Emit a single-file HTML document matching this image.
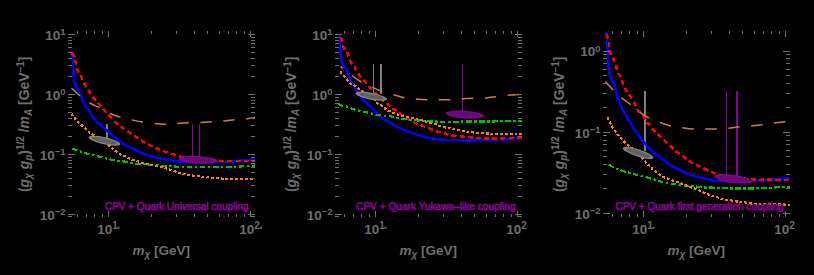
<!DOCTYPE html><html><head><meta charset="utf-8"><style>html,body{margin:0;padding:0;background:#000;width:814px;height:275px;overflow:hidden}svg{display:block}text{font-family:"Liberation Sans",sans-serif}</style></head><body>
<svg width="814" height="275" viewBox="0 0 814 275">
<rect width="814" height="275" fill="#000"/>
<defs><clipPath id="c0"><rect x="68" y="31" width="187" height="186"/></clipPath></defs>
<g clip-path="url(#c0)" shape-rendering="crispEdges">
<path d="M107.1,123.9V138.5" stroke="#808080" stroke-width="1.8"/>
<path d="M192.5,123.8V157" stroke="#8c0096" stroke-width="1.4"/>
<path d="M199.4,123.8V157" stroke="#8c0096" stroke-width="1.4"/>
<path d="M72.5,51.2 C72.58,53.5 72.88,61.87 73,65 C73.12,68.13 73.08,67.95 73.2,70 C73.32,72.05 73.37,74.87 73.7,77.3 C74.03,79.73 74.22,82.18 75.2,84.6 C76.18,87.02 78.52,89.62 79.6,91.8 C80.68,93.98 80.98,95.75 81.7,97.7 C82.42,99.65 82.8,101.48 83.9,103.5 C85,105.52 86.6,107.27 88.3,109.8 C90,112.33 92.15,116.23 94.1,118.7 C96.05,121.17 97.92,122.67 100,124.6 C102.08,126.53 104.18,128.2 106.6,130.3 C109.02,132.4 112.1,135.2 114.5,137.2 C116.9,139.2 119.08,140.95 121,142.3 C122.92,143.65 123.93,144.22 126,145.3 C128.07,146.38 131.18,147.75 133.4,148.8 C135.62,149.85 137.78,150.85 139.3,151.6 C140.82,152.35 140.52,152.53 142.5,153.3 C144.48,154.07 148.3,155.35 151.2,156.2 C154.1,157.05 156.98,157.8 159.9,158.4 C162.82,159 165.78,159.32 168.7,159.8 C171.62,160.28 173.85,160.93 177.4,161.3 C180.95,161.67 183.47,161.85 190,162 C196.53,162.15 209.98,162.2 216.6,162.2 C223.22,162.2 225.8,162.28 229.7,162 C233.6,161.72 235.62,160.92 240,160.5 C244.38,160.08 253.33,159.67 256,159.5" stroke="#0000ff" stroke-width="2.5" fill="none"/>
<path d="M71.5,53 C71.92,53.43 73.42,54.43 74,55.6 C74.58,56.77 74.7,58.73 75,60 C75.3,61.27 75.4,61.53 75.8,63.2 C76.2,64.87 76.53,67.9 77.4,70 C78.27,72.1 79.92,73.62 81,75.8 C82.08,77.98 82.68,80.78 83.9,83.1 C85.12,85.42 86.83,87.4 88.3,89.7 C89.77,92 91,94.6 92.7,96.9 C94.4,99.2 97.03,101.9 98.5,103.5 C99.97,105.1 100.52,105.35 101.5,106.5 C102.48,107.65 103.18,108.93 104.4,110.4 C105.62,111.87 107.08,113.42 108.8,115.3 C110.52,117.18 112.65,119.82 114.7,121.7 C116.75,123.58 119.3,125.22 121.1,126.6 C122.9,127.98 123.4,128.58 125.5,130 C127.6,131.42 131.12,133.4 133.7,135.1 C136.28,136.8 138.82,138.78 141,140.2 C143.18,141.62 144.62,142.42 146.8,143.6 C148.98,144.78 151.67,146.18 154.1,147.3 C156.53,148.42 158.97,149.35 161.4,150.3 C163.83,151.25 166.03,152.12 168.7,153 C171.37,153.88 174.73,154.85 177.4,155.6 C180.07,156.35 180.93,156.88 184.7,157.5 C188.47,158.12 194.95,158.82 200,159.3 C205.05,159.78 210.83,160.12 215,160.4 C219.17,160.68 220.83,160.9 225,161 C229.17,161.1 234.83,161 240,161 C245.17,161 253.33,161 256,161" stroke="#ff0000" stroke-width="2.5" fill="none" stroke-dasharray="5 3.2"/>
<ellipse shape-rendering="auto" cx="198" cy="159.8" rx="19.3" ry="3.9" transform="rotate(3 198 159.8)" stroke="none" stroke-width="0" fill="#8c0096" fill-opacity="0.95"/><ellipse shape-rendering="auto" cx="198" cy="159.8" rx="15.440000000000001" ry="2.574" transform="rotate(3 198 159.8)" stroke="none" stroke-width="0" fill="#5e0a6e" fill-opacity="0.85"/><ellipse shape-rendering="auto" cx="198" cy="159.8" rx="9.65" ry="1.365" transform="rotate(3 198 159.8)" stroke="#720a80" stroke-width="0.7" fill="none" fill-opacity="0"/>
<path d="M72,148.5 C73.5,149.03 78.28,150.78 81,151.7 C83.72,152.62 85.38,153.18 88.3,154 C91.22,154.82 95.35,155.82 98.5,156.6 C101.65,157.38 104.53,158.1 107.2,158.7 C109.87,159.3 111.58,159.72 114.5,160.2 C117.42,160.68 121.5,161.05 124.7,161.6 C127.9,162.15 130.73,163.07 133.7,163.5 C136.67,163.93 139.58,163.97 142.5,164.2 C145.42,164.43 148.05,164.65 151.2,164.9 C154.35,165.15 158,165.47 161.4,165.7 C164.8,165.93 168.45,166.12 171.6,166.3 C174.75,166.48 175.57,166.72 180.3,166.8 C185.03,166.88 191.72,166.8 200,166.8 C208.28,166.8 223.33,166.85 230,166.8 C236.67,166.75 235.67,166.72 240,166.5 C244.33,166.28 253.33,165.67 256,165.5" stroke="#00c000" stroke-width="2.2" fill="none" stroke-dasharray="5.5 2.5 2.5 2.5"/>
<path d="M71.5,113.6 C72.12,114.45 73.37,116.63 75.2,118.7 C77.03,120.77 80.08,123.68 82.5,126 C84.92,128.32 87.77,131.02 89.7,132.6 C91.63,134.18 92.03,134.17 94.1,135.5 C96.17,136.83 99.4,138.73 102.1,140.6 C104.8,142.47 108.35,145.2 110.3,146.7 C112.25,148.2 112.57,148.62 113.8,149.6 C115.03,150.58 116.4,151.7 117.7,152.6 C119,153.5 120.22,154.32 121.6,155 C122.98,155.68 124.47,156.02 126,156.7 C127.53,157.38 128.53,158.22 130.8,159.1 C133.07,159.98 136.93,161.15 139.6,162 C142.27,162.85 144.13,163.58 146.8,164.2 C149.47,164.82 152.68,165.1 155.6,165.7 C158.52,166.3 161.9,167.13 164.3,167.8 C166.7,168.47 167.6,168.88 170,169.7 C172.4,170.52 176.27,171.97 178.7,172.7 C181.13,173.43 181.93,173.57 184.6,174.1 C187.27,174.63 190.83,175.37 194.7,175.9 C198.57,176.43 203.42,176.87 207.8,177.3 C212.18,177.73 217.6,178.23 221,178.5 C224.4,178.77 222.37,178.88 228.2,178.9 C234.03,178.92 251.37,178.65 256,178.6" stroke="#ff8000" stroke-width="2.2" fill="none" stroke-dasharray="2.8 2"/>
<ellipse shape-rendering="auto" cx="104.4" cy="140.7" rx="16.2" ry="3.6" transform="rotate(12.5 104.4 140.7)" stroke="none" stroke-width="0" fill="#8a8a8a" fill-opacity="0.95"/><ellipse shape-rendering="auto" cx="104.4" cy="140.7" rx="12.636" ry="2.3760000000000003" transform="rotate(12.5 104.4 140.7)" stroke="none" stroke-width="0" fill="#585858" fill-opacity="0.92"/><ellipse shape-rendering="auto" cx="104.4" cy="140.7" rx="7.29" ry="1.26" transform="rotate(12.5 104.4 140.7)" stroke="#6e6e6e" stroke-width="0.7" fill="none" fill-opacity="0"/>
<path d="M71.5,88.2 C72.85,89.42 76.57,93.07 79.6,95.5 C82.63,97.93 86.32,100.75 89.7,102.8 C93.08,104.85 96.38,105.97 99.9,107.8 C103.42,109.63 107.35,112.22 110.8,113.8 C114.25,115.38 117.15,116.3 120.6,117.3 C124.05,118.3 127.85,119.02 131.5,119.8 C135.15,120.58 138.73,121.38 142.5,122 C146.27,122.62 150.1,123.13 154.1,123.5 C158.1,123.87 162.73,124.2 166.5,124.2 C170.27,124.2 172.83,123.73 176.7,123.5 C180.57,123.27 185.6,122.98 189.7,122.8 C193.8,122.62 197.42,122.6 201.3,122.4 C205.18,122.2 209.23,121.85 213,121.6 C216.77,121.35 220.17,121.22 223.9,120.9 C227.63,120.58 231.67,120.03 235.4,119.7 C239.13,119.37 242.87,119.3 246.3,118.9 C249.73,118.5 254.38,117.57 256,117.3" stroke="#cc8040" stroke-width="1.5" shape-rendering="auto" fill="none" stroke-dasharray="11.5 11.5" stroke-dashoffset="0"/>
</g>
<path d="M77.2,217v-2.6 M77.2,31v2.6 M86.7,217v-2.6 M86.7,31v2.6 M94.94,217v-2.6 M94.94,31v2.6 M102.2,217v-2.6 M102.2,31v2.6 M108.7,217v-6 M108.7,31v6 M151.45,217v-2.6 M151.45,31v2.6 M176.45,217v-2.6 M176.45,31v2.6 M194.19,217v-2.6 M194.19,31v2.6 M207.95,217v-2.6 M207.95,31v2.6 M219.2,217v-2.6 M219.2,31v2.6 M228.7,217v-2.6 M228.7,31v2.6 M236.94,217v-2.6 M236.94,31v2.6 M244.2,217v-2.6 M244.2,31v2.6 M250.7,217v-6 M250.7,31v6 M68,216.84h4 M255,216.84h-4 M68,214.1h7 M255,214.1h-7 M68,196.1h4 M255,196.1h-4 M68,185.57h4 M255,185.57h-4 M68,178.1h4 M255,178.1h-4 M68,172.3h4 M255,172.3h-4 M68,167.57h4 M255,167.57h-4 M68,163.56h4 M255,163.56h-4 M68,160.1h4 M255,160.1h-4 M68,157.04h4 M255,157.04h-4 M68,154.3h7 M255,154.3h-7 M68,136.3h4 M255,136.3h-4 M68,125.77h4 M255,125.77h-4 M68,118.3h4 M255,118.3h-4 M68,112.5h4 M255,112.5h-4 M68,107.77h4 M255,107.77h-4 M68,103.76h4 M255,103.76h-4 M68,100.3h4 M255,100.3h-4 M68,97.24h4 M255,97.24h-4 M68,94.5h7 M255,94.5h-7 M68,76.5h4 M255,76.5h-4 M68,65.97h4 M255,65.97h-4 M68,58.5h4 M255,58.5h-4 M68,52.7h4 M255,52.7h-4 M68,47.97h4 M255,47.97h-4 M68,43.96h4 M255,43.96h-4 M68,40.5h4 M255,40.5h-4 M68,37.44h4 M255,37.44h-4 M68,34.7h7 M255,34.7h-7" stroke="#6e6e6e" stroke-width="1" fill="none" shape-rendering="crispEdges"/>
<text x="65.6" y="40.1" fill="#6e6e6e" font-size="13.5" font-weight="bold" text-anchor="end"><tspan>10</tspan><tspan font-size="9.5" dy="-4.8">1</tspan></text>
<text x="65.6" y="99.9" fill="#6e6e6e" font-size="13.5" font-weight="bold" text-anchor="end"><tspan>10</tspan><tspan font-size="9.5" dy="-4.8">0</tspan></text>
<text x="65.6" y="159.7" fill="#6e6e6e" font-size="13.5" font-weight="bold" text-anchor="end"><tspan>10</tspan><tspan font-size="9.5" dy="-4.8">−1</tspan></text>
<text x="65.6" y="219.5" fill="#6e6e6e" font-size="13.5" font-weight="bold" text-anchor="end"><tspan>10</tspan><tspan font-size="9.5" dy="-4.8">−2</tspan></text>
<text x="107.5" y="233.8" fill="#6e6e6e" font-size="13.5" font-weight="bold" text-anchor="middle">10<tspan font-size="10" dy="-5">1</tspan></text>
<rect x="117.5" y="226.8" width="2" height="1.8" fill="#6e6e6e"/>
<text x="249.5" y="233.8" fill="#6e6e6e" font-size="13.5" font-weight="bold" text-anchor="middle">10<tspan font-size="10" dy="-5">2</tspan></text>
<rect x="260" y="226.8" width="2" height="1.8" fill="#6e6e6e"/>
<text x="132.5" y="254.5" fill="#6e6e6e" font-size="13.5" font-weight="bold"><tspan font-style="italic">m</tspan><tspan font-style="italic" font-size="10" dy="3">χ</tspan><tspan dy="-3"> [GeV]</tspan></text>
<g transform="translate(28.5,124.3) rotate(-90)"><text x="0" y="0" fill="#6e6e6e" font-size="13.9" font-weight="bold" text-anchor="middle">(<tspan font-style="italic">g</tspan><tspan font-size="10" dy="3" font-style="italic">χ</tspan><tspan dy="-3"> </tspan><tspan font-style="italic">g</tspan><tspan font-size="10" dy="3" font-style="italic">p</tspan><tspan dy="-3">)</tspan><tspan font-size="10" dy="-4.5">1/2</tspan><tspan dy="4.5"> /</tspan><tspan font-style="italic">m</tspan><tspan font-size="10" dy="3" font-style="italic">A</tspan><tspan dy="-3"> [GeV</tspan><tspan font-size="10" dy="-4.5">−1</tspan><tspan dy="4.5">]</tspan></text></g>
<text x="248.6" y="210.1" fill="#8c0096" stroke="#8c0096" stroke-width="0.6" font-size="10" text-anchor="end">CPV + Quark Universal coupling</text>
<defs><clipPath id="c1"><rect x="335" y="31" width="187" height="186"/></clipPath></defs>
<g clip-path="url(#c1)" shape-rendering="crispEdges">
<path d="M373.5,64.2V94" stroke="#808080" stroke-width="1.6"/>
<path d="M381,64.2V94" stroke="#808080" stroke-width="1.6"/>
<path d="M462.6,63.8V112" stroke="#8c0096" stroke-width="1.4"/>
<path d="M340,34.2 C340,35.93 339.88,41.67 340,44.6 C340.12,47.53 340.5,49.32 340.7,51.8 C340.9,54.28 340.85,57.33 341.2,59.5 C341.55,61.67 341.87,63.1 342.8,64.8 C343.73,66.5 345.82,68.07 346.8,69.7 C347.78,71.33 348.13,72.63 348.7,74.6 C349.27,76.57 349.72,80.2 350.2,81.5 C350.68,82.8 350.75,81.28 351.6,82.4 C352.45,83.52 353.95,86.27 355.3,88.2 C356.65,90.13 358.25,91.93 359.7,94 C361.15,96.07 362.28,98.57 364,100.6 C365.72,102.63 368.35,104.7 370,106.2 C371.65,107.7 372.65,108.25 373.9,109.6 C375.15,110.95 375.75,112.67 377.5,114.3 C379.25,115.93 382.18,117.93 384.4,119.4 C386.62,120.87 388.77,121.88 390.8,123.1 C392.83,124.32 394.42,125.6 396.6,126.7 C398.78,127.8 401.47,128.72 403.9,129.7 C406.33,130.68 408.53,131.63 411.2,132.6 C413.87,133.57 416.98,134.65 419.9,135.5 C422.82,136.35 425.78,137.1 428.7,137.7 C431.62,138.3 434.73,138.75 437.4,139.1 C440.07,139.45 441.83,139.68 444.7,139.8 C447.57,139.92 450.53,139.67 454.6,139.8 C458.67,139.93 464.25,140.6 469.1,140.6 C473.95,140.6 480.22,139.85 483.7,139.8 C487.18,139.75 486.52,140.35 490,140.3 C493.48,140.25 499.98,139.83 504.6,139.5 C509.22,139.17 514.63,138.55 517.7,138.3 C520.77,138.05 522.12,138.05 523,138" stroke="#0000ff" stroke-width="2.5" fill="none"/>
<path d="M340.7,37 C340.95,37.77 341.72,39.85 342.2,41.6 C342.68,43.35 342.75,45.67 343.6,47.5 C344.45,49.33 346.53,51.27 347.3,52.6 C348.07,53.93 347.63,53.95 348.2,55.5 C348.77,57.05 349.63,60.02 350.7,61.9 C351.77,63.78 353.78,65.5 354.6,66.8 C355.42,68.1 354.93,68.47 355.6,69.7 C356.27,70.93 357.28,72.48 358.6,74.2 C359.92,75.92 361.75,77.92 363.5,80 C365.25,82.08 367.85,85.2 369.1,86.7 C370.35,88.2 370.2,88.13 371,89 C371.8,89.87 372.92,91 373.9,91.9 C374.88,92.8 375.1,92.6 376.9,94.4 C378.7,96.2 382.65,100.9 384.7,102.7 C386.75,104.5 387.88,104.22 389.2,105.2 C390.52,106.18 391.55,107.78 392.6,108.6 C393.65,109.42 394.35,109.37 395.5,110.1 C396.65,110.83 397.62,111.68 399.5,113 C401.38,114.32 404.37,116.43 406.8,118 C409.23,119.57 411.67,121.18 414.1,122.4 C416.53,123.62 418.97,124.33 421.4,125.3 C423.83,126.27 426.28,127.23 428.7,128.2 C431.12,129.17 433.48,130.3 435.9,131.1 C438.32,131.9 441.07,132.4 443.2,133 C445.33,133.6 446.32,134.17 448.7,134.7 C451.08,135.23 454.58,135.83 457.5,136.2 C460.42,136.57 463.3,136.65 466.2,136.9 C469.1,137.15 471.98,137.45 474.9,137.7 C477.82,137.95 479.57,138.28 483.7,138.4 C487.83,138.52 494.03,138.53 499.7,138.4 C505.37,138.27 513.82,137.75 517.7,137.6 C521.58,137.45 522.12,137.52 523,137.5" stroke="#ff0000" stroke-width="2.5" fill="none" stroke-dasharray="5 3.2"/>
<ellipse shape-rendering="auto" cx="464.8" cy="114.6" rx="19.2" ry="3.9" transform="rotate(4 464.8 114.6)" stroke="none" stroke-width="0" fill="#8c0096" fill-opacity="0.95"/><ellipse shape-rendering="auto" cx="464.8" cy="114.6" rx="15.36" ry="2.574" transform="rotate(4 464.8 114.6)" stroke="none" stroke-width="0" fill="#5e0a6e" fill-opacity="0.85"/><ellipse shape-rendering="auto" cx="464.8" cy="114.6" rx="9.6" ry="1.365" transform="rotate(4 464.8 114.6)" stroke="#720a80" stroke-width="0.7" fill="none" fill-opacity="0"/>
<path d="M338.2,104 C338.75,104.25 340.1,105.07 341.5,105.5 C342.9,105.93 344.78,106.07 346.6,106.6 C348.42,107.13 350.22,107.98 352.4,108.7 C354.58,109.42 357.28,110.28 359.7,110.9 C362.12,111.52 364.72,111.92 366.9,112.4 C369.08,112.88 370.62,113.32 372.8,113.8 C374.98,114.28 377.58,114.95 380,115.3 C382.42,115.65 385.25,115.68 387.3,115.9 C389.35,116.12 390.5,116.25 392.3,116.6 C394.1,116.95 396.17,117.6 398.1,118 C400.03,118.4 401.72,118.68 403.9,119 C406.08,119.32 408.77,119.65 411.2,119.9 C413.63,120.15 416.07,120.32 418.5,120.5 C420.93,120.68 423.62,120.85 425.8,121 C427.98,121.15 429.67,121.3 431.6,121.4 C433.53,121.5 435.47,121.52 437.4,121.6 C439.33,121.68 439.43,121.9 443.2,121.9 C446.97,121.9 452.2,121.67 460,121.6 C467.8,121.53 480.38,121.63 490,121.5 C499.62,121.37 512.2,120.95 517.7,120.8 C523.2,120.65 522.12,120.63 523,120.6" stroke="#00c000" stroke-width="2.2" fill="none" stroke-dasharray="5.5 2.5 2.5 2.5"/>
<path d="M340.4,71.5 C340.97,72.27 342.65,74.72 343.8,76.1 C344.95,77.48 346.12,78.52 347.3,79.8 C348.48,81.08 349.57,82.77 350.9,83.8 C352.23,84.83 353.97,85.15 355.3,86 C356.63,86.85 357.57,87.93 358.9,88.9 C360.23,89.87 361.72,90.83 363.3,91.8 C364.88,92.77 366.33,93.23 368.4,94.7 C370.47,96.17 374.12,99.1 375.7,100.6 C377.28,102.1 376.72,102.77 377.9,103.7 C379.08,104.63 381.42,105.22 382.8,106.2 C384.18,107.18 384.9,108.7 386.2,109.6 C387.5,110.5 388.87,110.83 390.6,111.6 C392.33,112.37 394.13,113.37 396.6,114.2 C399.07,115.03 402.48,115.85 405.4,116.6 C408.32,117.35 411.43,118.1 414.1,118.7 C416.77,119.3 418.97,119.58 421.4,120.2 C423.83,120.82 426.52,121.8 428.7,122.4 C430.88,123 432.62,123.2 434.5,123.8 C436.38,124.4 437.63,125.27 440,126 C442.37,126.73 445.78,127.58 448.7,128.2 C451.62,128.82 454.58,129.15 457.5,129.7 C460.42,130.25 463.3,131.02 466.2,131.5 C469.1,131.98 471.98,132.3 474.9,132.6 C477.82,132.9 481.02,133.12 483.7,133.3 C486.38,133.48 488.58,133.58 491,133.7 C493.42,133.82 492.87,133.92 498.2,134 C503.53,134.08 518.87,134.17 523,134.2" stroke="#ff8000" stroke-width="2.2" fill="none" stroke-dasharray="2.8 2"/>
<ellipse shape-rendering="auto" cx="371.3" cy="96.2" rx="16" ry="3.5" transform="rotate(11 371.3 96.2)" stroke="none" stroke-width="0" fill="#8a8a8a" fill-opacity="0.95"/><ellipse shape-rendering="auto" cx="371.3" cy="96.2" rx="12.48" ry="2.31" transform="rotate(11 371.3 96.2)" stroke="none" stroke-width="0" fill="#585858" fill-opacity="0.92"/><ellipse shape-rendering="auto" cx="371.3" cy="96.2" rx="7.2" ry="1.2249999999999999" transform="rotate(11 371.3 96.2)" stroke="#6e6e6e" stroke-width="0.7" fill="none" fill-opacity="0"/>
<path d="M340.5,66.5 C342.2,67.85 347.37,72.1 350.7,74.6 C354.03,77.1 357.07,79.43 360.5,81.5 C363.93,83.57 367.88,85.42 371.3,87 C374.72,88.58 377.45,89.77 381,91 C384.55,92.23 388.87,93.3 392.6,94.4 C396.33,95.5 399.7,96.85 403.4,97.6 C407.1,98.35 410.95,98.55 414.8,98.9 C418.65,99.25 422.62,99.57 426.5,99.7 C430.38,99.83 434.27,99.7 438.1,99.7 C441.93,99.7 445.55,99.83 449.5,99.7 C453.45,99.57 458.05,99.15 461.8,98.9 C465.55,98.65 468.23,98.32 472,98.2 C475.77,98.08 480.52,98.45 484.4,98.2 C488.28,97.95 491.45,97.18 495.3,96.7 C499.15,96.22 503.65,95.65 507.5,95.3 C511.35,94.95 515.82,94.77 518.4,94.6 C520.98,94.43 522.23,94.35 523,94.3" stroke="#cc8040" stroke-width="1.5" shape-rendering="auto" fill="none" stroke-dasharray="11.5 11.5" stroke-dashoffset="8.5"/>
</g>
<path d="M344.2,217v-2.6 M344.2,31v2.6 M353.7,217v-2.6 M353.7,31v2.6 M361.94,217v-2.6 M361.94,31v2.6 M369.2,217v-2.6 M369.2,31v2.6 M375.7,217v-6 M375.7,31v6 M418.45,217v-2.6 M418.45,31v2.6 M443.45,217v-2.6 M443.45,31v2.6 M461.19,217v-2.6 M461.19,31v2.6 M474.95,217v-2.6 M474.95,31v2.6 M486.2,217v-2.6 M486.2,31v2.6 M495.7,217v-2.6 M495.7,31v2.6 M503.94,217v-2.6 M503.94,31v2.6 M511.2,217v-2.6 M511.2,31v2.6 M517.7,217v-6 M517.7,31v6 M335,216.84h4 M522,216.84h-4 M335,214.1h7 M522,214.1h-7 M335,196.1h4 M522,196.1h-4 M335,185.57h4 M522,185.57h-4 M335,178.1h4 M522,178.1h-4 M335,172.3h4 M522,172.3h-4 M335,167.57h4 M522,167.57h-4 M335,163.56h4 M522,163.56h-4 M335,160.1h4 M522,160.1h-4 M335,157.04h4 M522,157.04h-4 M335,154.3h7 M522,154.3h-7 M335,136.3h4 M522,136.3h-4 M335,125.77h4 M522,125.77h-4 M335,118.3h4 M522,118.3h-4 M335,112.5h4 M522,112.5h-4 M335,107.77h4 M522,107.77h-4 M335,103.76h4 M522,103.76h-4 M335,100.3h4 M522,100.3h-4 M335,97.24h4 M522,97.24h-4 M335,94.5h7 M522,94.5h-7 M335,76.5h4 M522,76.5h-4 M335,65.97h4 M522,65.97h-4 M335,58.5h4 M522,58.5h-4 M335,52.7h4 M522,52.7h-4 M335,47.97h4 M522,47.97h-4 M335,43.96h4 M522,43.96h-4 M335,40.5h4 M522,40.5h-4 M335,37.44h4 M522,37.44h-4 M335,34.7h7 M522,34.7h-7" stroke="#6e6e6e" stroke-width="1" fill="none" shape-rendering="crispEdges"/>
<text x="332.6" y="40.1" fill="#6e6e6e" font-size="13.5" font-weight="bold" text-anchor="end"><tspan>10</tspan><tspan font-size="9.5" dy="-4.8">1</tspan></text>
<text x="332.6" y="99.9" fill="#6e6e6e" font-size="13.5" font-weight="bold" text-anchor="end"><tspan>10</tspan><tspan font-size="9.5" dy="-4.8">0</tspan></text>
<text x="332.6" y="159.7" fill="#6e6e6e" font-size="13.5" font-weight="bold" text-anchor="end"><tspan>10</tspan><tspan font-size="9.5" dy="-4.8">−1</tspan></text>
<text x="332.6" y="219.5" fill="#6e6e6e" font-size="13.5" font-weight="bold" text-anchor="end"><tspan>10</tspan><tspan font-size="9.5" dy="-4.8">−2</tspan></text>
<text x="374.5" y="233.8" fill="#6e6e6e" font-size="13.5" font-weight="bold" text-anchor="middle">10<tspan font-size="10" dy="-5">1</tspan></text>
<rect x="384.5" y="226.8" width="2" height="1.8" fill="#6e6e6e"/>
<text x="516.5" y="233.8" fill="#6e6e6e" font-size="13.5" font-weight="bold" text-anchor="middle">10<tspan font-size="10" dy="-5">2</tspan></text>
<text x="399.5" y="254.5" fill="#6e6e6e" font-size="13.5" font-weight="bold"><tspan font-style="italic">m</tspan><tspan font-style="italic" font-size="10" dy="3">χ</tspan><tspan dy="-3"> [GeV]</tspan></text>
<g transform="translate(295.5,124.3) rotate(-90)"><text x="0" y="0" fill="#6e6e6e" font-size="13.9" font-weight="bold" text-anchor="middle">(<tspan font-style="italic">g</tspan><tspan font-size="10" dy="3" font-style="italic">χ</tspan><tspan dy="-3"> </tspan><tspan font-style="italic">g</tspan><tspan font-size="10" dy="3" font-style="italic">p</tspan><tspan dy="-3">)</tspan><tspan font-size="10" dy="-4.5">1/2</tspan><tspan dy="4.5"> /</tspan><tspan font-style="italic">m</tspan><tspan font-size="10" dy="3" font-style="italic">A</tspan><tspan dy="-3"> [GeV</tspan><tspan font-size="10" dy="-4.5">−1</tspan><tspan dy="4.5">]</tspan></text></g>
<text x="515.6" y="210.1" fill="#8c0096" stroke="#8c0096" stroke-width="0.6" font-size="10" text-anchor="end" letter-spacing="0.065">CPV + Quark Yukawa–like coupling</text>
<defs><clipPath id="c2"><rect x="603" y="31" width="187" height="186"/></clipPath></defs>
<g clip-path="url(#c2)" shape-rendering="crispEdges">
<path d="M645.1,91.2V151" stroke="#808080" stroke-width="1.8"/>
<path d="M726.5,90.9V176" stroke="#8c0096" stroke-width="1.3"/>
<path d="M737,90.9V176" stroke="#8c0096" stroke-width="2"/>
<path d="M606.6,32.2 C606.72,33.93 607.07,38.45 607.3,42.6 C607.53,46.75 607.8,53.37 608,57.1 C608.2,60.83 608.23,62.23 608.5,65 C608.77,67.77 609.08,71.27 609.6,73.7 C610.12,76.13 610.8,77.77 611.6,79.6 C612.4,81.43 613.67,82.77 614.4,84.7 C615.13,86.63 615.48,89.02 616,91.2 C616.52,93.38 616.77,95.62 617.5,97.8 C618.23,99.98 619.68,102.72 620.4,104.3 C621.12,105.88 620.83,105.35 621.8,107.3 C622.77,109.25 624.5,112.97 626.2,116 C627.9,119.03 630.07,122.47 632,125.5 C633.93,128.53 636.22,131.9 637.8,134.2 C639.38,136.5 640.52,137.95 641.5,139.3 C642.48,140.65 642.37,140.72 643.7,142.3 C645.03,143.88 647.57,146.87 649.5,148.8 C651.43,150.73 653.17,152.22 655.3,153.9 C657.43,155.58 659.92,157.13 662.3,158.9 C664.68,160.67 667.18,162.9 669.6,164.5 C672.02,166.1 674.38,167.23 676.8,168.5 C679.22,169.77 681.43,170.93 684.1,172.1 C686.77,173.27 689.88,174.52 692.8,175.5 C695.72,176.48 698.68,177.32 701.6,178 C704.52,178.68 707.45,179.08 710.3,179.6 C713.15,180.12 711.72,180.85 718.7,181.1 C725.68,181.35 743.7,181.35 752.2,181.1 C760.7,180.85 764.3,180.08 769.7,179.6 C775.1,179.12 781.22,178.47 784.6,178.2 C787.98,177.93 789.1,178.03 790,178" stroke="#0000ff" stroke-width="2.5" fill="none"/>
<path d="M606.6,33.8 C606.95,35.02 608.22,38.43 608.7,41.1 C609.18,43.77 608.88,47.13 609.5,49.8 C610.12,52.47 611.43,54.92 612.4,57.1 C613.37,59.28 614.42,60.42 615.3,62.9 C616.18,65.38 616.95,70 617.7,72 C618.45,74 619.2,73.8 619.8,74.9 C620.4,76 620.8,77.27 621.3,78.6 C621.8,79.93 622.25,81.45 622.8,82.9 C623.35,84.35 624,85.97 624.6,87.3 C625.2,88.63 625.53,89.52 626.4,90.9 C627.27,92.28 628.5,93.62 629.8,95.6 C631.1,97.58 632.87,100.37 634.2,102.8 C635.53,105.23 636.22,107.88 637.8,110.2 C639.38,112.52 642,114.47 643.7,116.7 C645.4,118.93 646.3,121.32 648,123.6 C649.7,125.88 651.77,128.17 653.9,130.4 C656.03,132.63 658.32,134.63 660.8,137 C663.28,139.37 666.37,142.28 668.8,144.6 C671.23,146.92 673.22,149.12 675.4,150.9 C677.58,152.68 679.72,153.72 681.9,155.3 C684.08,156.88 686.43,158.95 688.5,160.4 C690.57,161.85 692.12,162.82 694.3,164 C696.48,165.18 698.93,166.25 701.6,167.5 C704.27,168.75 707.93,170.45 710.3,171.5 C712.67,172.55 712.52,172.88 715.8,173.8 C719.08,174.72 723.2,176.03 730,177 C736.8,177.97 750.72,179.17 756.6,179.6 C762.48,180.03 759.73,179.53 765.3,179.6 C770.87,179.67 785.88,179.93 790,180" stroke="#ff0000" stroke-width="2.5" fill="none" stroke-dasharray="5 3.2"/>
<ellipse shape-rendering="auto" cx="733" cy="178.9" rx="18.8" ry="4.1" transform="rotate(7 733 178.9)" stroke="none" stroke-width="0" fill="#8c0096" fill-opacity="0.95"/><ellipse shape-rendering="auto" cx="733" cy="178.9" rx="15.040000000000001" ry="2.706" transform="rotate(7 733 178.9)" stroke="none" stroke-width="0" fill="#5e0a6e" fill-opacity="0.85"/><ellipse shape-rendering="auto" cx="733" cy="178.9" rx="9.4" ry="1.4349999999999998" transform="rotate(7 733 178.9)" stroke="#720a80" stroke-width="0.7" fill="none" fill-opacity="0"/>
<path d="M608.7,164.8 C609.92,165.42 613.82,167.52 616,168.5 C618.18,169.48 619.62,169.98 621.8,170.7 C623.98,171.42 626.92,172.2 629.1,172.8 C631.28,173.4 630.58,173.17 634.9,174.3 C639.22,175.43 650.68,178.37 655,179.6 C659.32,180.83 658.73,181.1 660.8,181.7 C662.87,182.3 665.22,182.83 667.4,183.2 C669.58,183.57 671.72,183.65 673.9,183.9 C676.08,184.15 678.32,184.33 680.5,184.7 C682.68,185.07 684.95,185.87 687,186.1 C689.05,186.33 690.85,185.98 692.8,186.1 C694.75,186.22 696.52,186.55 698.7,186.8 C700.88,187.05 703.48,187.47 705.9,187.6 C708.32,187.73 709.18,187.47 713.2,187.6 C717.22,187.73 723.2,188.27 730,188.4 C736.8,188.53 744.9,188.63 754,188.4 C763.1,188.17 778.6,187.23 784.6,187 C790.6,186.77 789.1,187 790,187" stroke="#00c000" stroke-width="2.2" fill="none" stroke-dasharray="5.5 2.5 2.5 2.5"/>
<path d="M607.3,117.5 C607.78,118.47 609.35,121.73 610.2,123.3 C611.05,124.87 611.55,125.57 612.4,126.9 C613.25,128.23 614.33,129.92 615.3,131.3 C616.27,132.68 617.12,133.92 618.2,135.2 C619.28,136.48 620.58,137.7 621.8,139 C623.02,140.3 624.28,141.85 625.5,143 C626.72,144.15 627.28,144.32 629.1,145.9 C630.92,147.48 633.97,150.2 636.4,152.5 C638.83,154.8 642,157.88 643.7,159.7 C645.4,161.52 645.52,162.3 646.6,163.4 C647.68,164.5 649.12,165.22 650.2,166.3 C651.28,167.38 651.93,168.8 653.1,169.9 C654.27,171 655.78,171.92 657.2,172.9 C658.62,173.88 660.15,174.95 661.6,175.8 C663.05,176.65 664.45,177.38 665.9,178 C667.35,178.62 668.72,178.88 670.3,179.5 C671.88,180.12 673.7,181.08 675.4,181.7 C677.1,182.32 678.93,182.7 680.5,183.2 C682.07,183.7 683.35,184.1 684.8,184.7 C686.25,185.3 687.73,186.2 689.2,186.8 C690.67,187.4 692.15,187.82 693.6,188.3 C695.05,188.78 696.45,189.1 697.9,189.7 C699.35,190.3 700.72,191.17 702.3,191.9 C703.88,192.63 705.85,193.5 707.4,194.1 C708.95,194.7 710.17,195.05 711.6,195.5 C713.03,195.95 714.35,196.27 716,196.8 C717.65,197.33 719.77,198.18 721.5,198.7 C723.23,199.22 724.77,199.6 726.4,199.9 C728.03,200.2 729.67,200.25 731.3,200.5 C732.93,200.75 734.67,201.18 736.2,201.4 C737.73,201.62 738.87,201.6 740.5,201.8 C742.13,202 744.15,202.3 746,202.6 C747.85,202.9 749.85,203.4 751.6,203.6 C753.35,203.8 754.87,203.7 756.5,203.8 C758.13,203.9 758.53,204.12 761.4,204.2 C764.27,204.28 769.8,204.23 773.7,204.3 C777.6,204.37 782.08,204.55 784.8,204.6 C787.52,204.65 789.13,204.6 790,204.6" stroke="#ff8000" stroke-width="2.2" fill="none" stroke-dasharray="2.8 2"/>
<ellipse shape-rendering="auto" cx="638.2" cy="153" rx="16.2" ry="3.7" transform="rotate(18.4 638.2 153)" stroke="none" stroke-width="0" fill="#8a8a8a" fill-opacity="0.95"/><ellipse shape-rendering="auto" cx="638.2" cy="153" rx="12.636" ry="2.442" transform="rotate(18.4 638.2 153)" stroke="none" stroke-width="0" fill="#585858" fill-opacity="0.92"/><ellipse shape-rendering="auto" cx="638.2" cy="153" rx="7.29" ry="1.295" transform="rotate(18.4 638.2 153)" stroke="#6e6e6e" stroke-width="0.7" fill="none" fill-opacity="0"/>
<path d="M605.3,81.5 C606.7,83.02 610.95,87.88 613.7,90.6 C616.45,93.32 618.87,95.38 621.8,97.8 C624.73,100.22 628.27,102.67 631.3,105.1 C634.33,107.53 636.97,110.22 640,112.4 C643.03,114.58 646.15,116.52 649.5,118.2 C652.85,119.88 656.4,121.18 660.1,122.5 C663.8,123.82 668.07,125.25 671.7,126.1 C675.33,126.95 678.13,127.12 681.9,127.6 C685.67,128.08 690.43,128.78 694.3,129 C698.17,129.22 701.37,128.92 705.1,128.9 C708.83,128.88 712.82,129.02 716.7,128.9 C720.58,128.78 724.52,128.57 728.4,128.2 C732.28,127.83 736.23,127.07 740,126.7 C743.77,126.33 747.08,126.33 751,126 C754.92,125.67 759.6,125.2 763.5,124.7 C767.4,124.2 770.65,123.53 774.4,123 C778.15,122.47 783.4,121.83 786,121.5 C788.6,121.17 789.33,121.08 790,121" stroke="#cc8040" stroke-width="1.5" shape-rendering="auto" fill="none" stroke-dasharray="11.5 11.5" stroke-dashoffset="0"/>
</g>
<path d="M612.2,217v-2.6 M612.2,31v2.6 M621.7,217v-2.6 M621.7,31v2.6 M629.94,217v-2.6 M629.94,31v2.6 M637.2,217v-2.6 M637.2,31v2.6 M643.7,217v-6 M643.7,31v6 M686.45,217v-2.6 M686.45,31v2.6 M711.45,217v-2.6 M711.45,31v2.6 M729.19,217v-2.6 M729.19,31v2.6 M742.95,217v-2.6 M742.95,31v2.6 M754.2,217v-2.6 M754.2,31v2.6 M763.7,217v-2.6 M763.7,31v2.6 M771.94,217v-2.6 M771.94,31v2.6 M779.2,217v-2.6 M779.2,31v2.6 M785.7,217v-6 M785.7,31v6 M603,213.4h7 M790,213.4h-7 M603,188.96h4 M790,188.96h-4 M603,174.66h4 M790,174.66h-4 M603,164.51h4 M790,164.51h-4 M603,156.64h4 M790,156.64h-4 M603,150.21h4 M790,150.21h-4 M603,144.78h4 M790,144.78h-4 M603,140.07h4 M790,140.07h-4 M603,135.92h4 M790,135.92h-4 M603,132.2h7 M790,132.2h-7 M603,107.76h4 M790,107.76h-4 M603,93.46h4 M790,93.46h-4 M603,83.31h4 M790,83.31h-4 M603,75.44h4 M790,75.44h-4 M603,69.01h4 M790,69.01h-4 M603,63.58h4 M790,63.58h-4 M603,58.87h4 M790,58.87h-4 M603,54.72h4 M790,54.72h-4 M603,51h7 M790,51h-7" stroke="#6e6e6e" stroke-width="1" fill="none" shape-rendering="crispEdges"/>
<text x="600.6" y="56.4" fill="#6e6e6e" font-size="13.5" font-weight="bold" text-anchor="end"><tspan>10</tspan><tspan font-size="9.5" dy="-4.8">0</tspan></text>
<text x="600.6" y="137.6" fill="#6e6e6e" font-size="13.5" font-weight="bold" text-anchor="end"><tspan>10</tspan><tspan font-size="9.5" dy="-4.8">−1</tspan></text>
<text x="600.6" y="218.8" fill="#6e6e6e" font-size="13.5" font-weight="bold" text-anchor="end"><tspan>10</tspan><tspan font-size="9.5" dy="-4.8">−2</tspan></text>
<text x="642.5" y="233.8" fill="#6e6e6e" font-size="13.5" font-weight="bold" text-anchor="middle">10<tspan font-size="10" dy="-5">1</tspan></text>
<rect x="652.5" y="226.8" width="2" height="1.8" fill="#6e6e6e"/>
<text x="784.5" y="233.8" fill="#6e6e6e" font-size="13.5" font-weight="bold" text-anchor="middle">10<tspan font-size="10" dy="-5">2</tspan></text>
<text x="667.5" y="254.5" fill="#6e6e6e" font-size="13.5" font-weight="bold"><tspan font-style="italic">m</tspan><tspan font-style="italic" font-size="10" dy="3">χ</tspan><tspan dy="-3"> [GeV]</tspan></text>
<g transform="translate(563.5,124.3) rotate(-90)"><text x="0" y="0" fill="#6e6e6e" font-size="13.9" font-weight="bold" text-anchor="middle">(<tspan font-style="italic">g</tspan><tspan font-size="10" dy="3" font-style="italic">χ</tspan><tspan dy="-3"> </tspan><tspan font-style="italic">g</tspan><tspan font-size="10" dy="3" font-style="italic">p</tspan><tspan dy="-3">)</tspan><tspan font-size="10" dy="-4.5">1/2</tspan><tspan dy="4.5"> /</tspan><tspan font-style="italic">m</tspan><tspan font-size="10" dy="3" font-style="italic">A</tspan><tspan dy="-3"> [GeV</tspan><tspan font-size="10" dy="-4.5">−1</tspan><tspan dy="4.5">]</tspan></text></g>
<text x="783.6" y="210.1" fill="#8c0096" stroke="#8c0096" stroke-width="0.6" font-size="10" text-anchor="end">CPV + Quark first generation coupling</text>
</svg></body></html>
